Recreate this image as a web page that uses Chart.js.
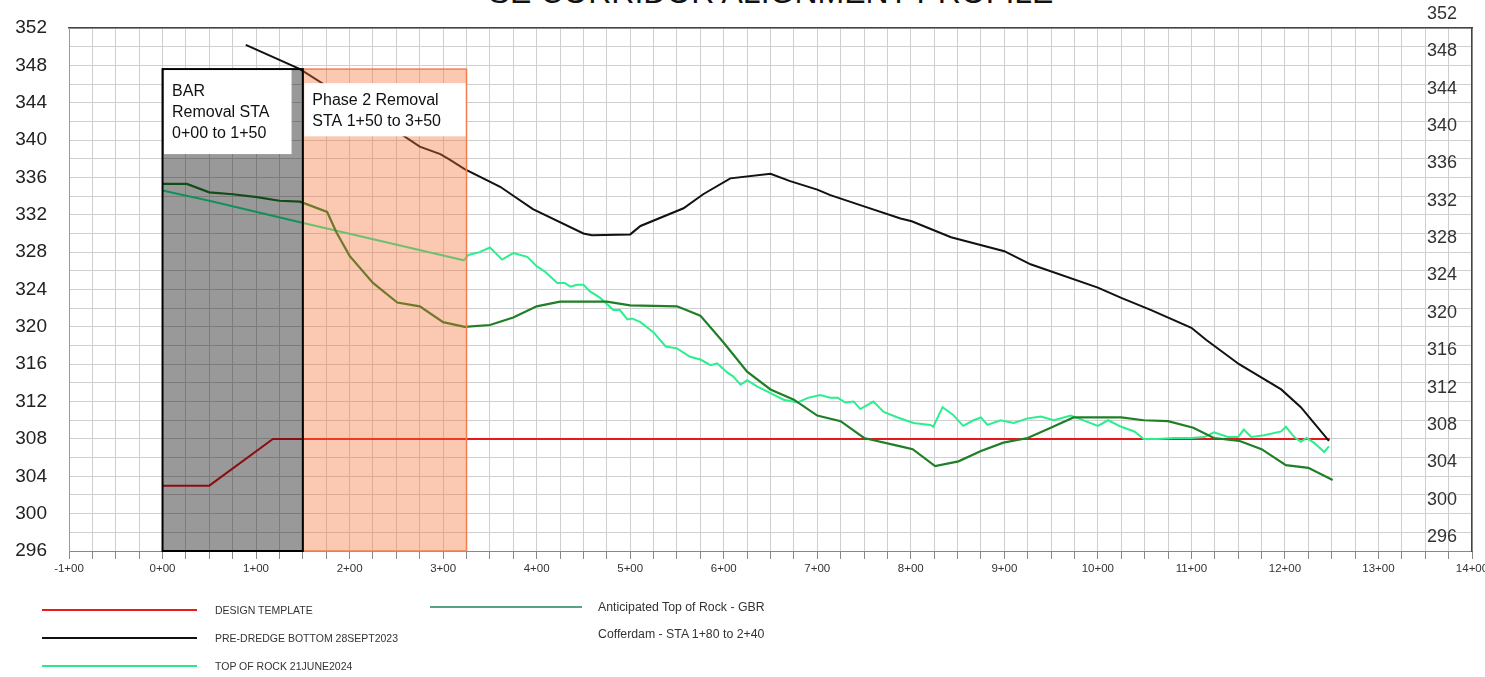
<!DOCTYPE html>
<html>
<head>
<meta charset="utf-8">
<title>SE Corridor Alignment Profile</title>
<script src="https://cdn.jsdelivr.net/npm/chart.js@4.4.1/dist/chart.umd.min.js"></script>
<style>
  html, body { margin: 0; padding: 0; background: #fff; overflow: hidden; }
  #wrap { position: relative; width: 1485px; height: 677px; overflow: hidden; font-family: "Liberation Sans", Arial, sans-serif; }
  #title { position: absolute; left: 0; width: 1542px; top: -24px; text-align: center; font-size: 32px; line-height: 32px; color: #111; }
  canvas { position: absolute; left: 0; top: 0; }
  .leg-line { position: absolute; height: 2px; }
  .leg-text { position: absolute; color: #333; white-space: nowrap; line-height: 14px; }
</style>
</head>
<body>
<div id="wrap">
  <div id="title">SE CORRIDOR ALIGNMENT PROFILE</div>
  <canvas id="profileChart" width="1485" height="677"></canvas>
  <div id="legend"></div>
</div>
<script>
// stations in feet, elevations in feet
const designSta = [0, 50, 118, 1248];
const designElev = [303, 303, 308, 308];

const preDredgeSta = [89, 147, 227, 275, 297, 307, 323, 361, 377, 396, 450, 459, 500, 511, 557, 578, 607, 650, 671, 700,
  714, 750, 789, 801, 843, 900, 928, 1000, 1025, 1057, 1100, 1116, 1151, 1196, 1217, 1247];
const preDredgeElev = [350.2, 347.6, 342.5, 339.3, 338.5, 337.9, 336.9, 335.0, 333.9, 332.6, 330.0, 329.8, 329.9, 330.8, 332.7, 334.2, 335.9, 336.4, 335.6, 334.7,
  334.1, 332.9, 331.6, 331.3, 329.6, 328.1, 326.7, 324.2, 323.1, 321.8, 319.9, 318.6, 316.0, 313.3, 311.4, 307.8];

const rockSta = [323, 327, 339, 350, 363, 375, 390, 400, 409, 422, 430, 436, 443, 450, 457, 468, 482, 489, 497, 502,
  511, 525, 538, 550, 564, 575, 586, 593, 604, 610, 618, 625, 636, 650, 664, 679, 690, 703, 714, 722,
  730, 739, 746, 760, 771, 786, 803, 821, 824, 834, 845, 856, 867, 875, 882, 896, 910, 925, 939, 953,
  971, 982, 1000, 1011, 1025, 1039, 1049, 1064, 1081, 1100, 1114, 1124, 1139, 1150, 1156, 1164, 1178, 1196, 1201, 1210,
  1217, 1223, 1231, 1242, 1247];
const rockElev = [327.2, 327.7, 328.0, 328.5, 327.2, 327.9, 327.5, 326.5, 325.9, 324.7, 324.7, 324.3, 324.5, 324.5, 323.8, 323.1, 321.8, 321.8, 320.8, 320.9,
  320.5, 319.4, 317.9, 317.7, 316.8, 316.5, 315.9, 316.1, 315.1, 314.7, 313.8, 314.3, 313.6, 312.9, 312.2, 311.9, 312.4, 312.7, 312.4, 312.4,
  311.9, 312.0, 311.2, 312.0, 310.9, 310.3, 309.7, 309.5, 309.3, 311.4, 310.6, 309.4, 310.0, 310.3, 309.5, 310.0, 309.7, 310.2, 310.4, 310.0,
  310.5, 310.1, 309.4, 310.0, 309.3, 308.8, 308.0, 308.0, 308.1, 308.1, 308.2, 308.7, 308.2, 308.2, 309.0, 308.2, 308.4, 308.8, 309.3, 308.2,
  307.7, 308.1, 307.6, 306.6, 307.2];

const surveySta = [0, 26, 50, 75, 101, 125, 147, 176, 186, 200, 225, 251, 275, 300, 323, 350, 375, 400, 425, 475,
  500, 550, 575, 600, 625, 650, 675, 700, 725, 750, 789, 802, 826, 851, 875, 899, 925, 952, 974, 1025,
  1049, 1075, 1102, 1124, 1151, 1175, 1201, 1225, 1251];
const surveyElev = [335.3, 335.3, 334.4, 334.2, 333.9, 333.5, 333.4, 332.3, 330.1, 327.6, 324.7, 322.6, 322.2, 320.5, 320.0, 320.2, 321.0, 322.2, 322.7, 322.7,
  322.3, 322.2, 321.2, 318.3, 315.2, 313.3, 312.2, 310.5, 309.9, 308.1, 307.2, 306.9, 305.1, 305.6, 306.7, 307.6, 308.1, 309.3, 310.3, 310.3,
  310.0, 309.9, 309.2, 308.1, 307.8, 306.9, 305.2, 304.9, 303.6];

const gbrSta = [0, 50, 147, 323];
const gbrElev = [334.6, 333.5, 331.2, 327.1];

// removal zones (station from / to, top elevation)
const zoneFrom = [0, 150];
const zoneTo = [150, 325];
const zoneTop = [347.6, 347.6];

// note boxes: station from / to, elevation top / bottom, text lines
const noteFrom = [0, 150];
const noteTo = [139, 325];
const noteTop = [347.6, 346.2];
const noteBottom = [338.5, 340.4];
const noteLines = [['BAR', 'Removal STA', '0+00 to 1+50'], ['Phase 2 Removal', 'STA 1+50 to 3+50']];

const legendLabels = ['DESIGN TEMPLATE', 'PRE-DREDGE BOTTOM 28SEPT2023', 'TOP OF ROCK 21JUNE2024',
  'Anticipated Top of Rock - GBR', 'Cofferdam - STA 1+80 to 2+40'];

const staMin = -100, staMax = 1400;
const elevMin = 296, elevMax = 352;

function toPoints(xs, ys) {
  return xs.map((x, i) => ({ x: x, y: ys[i] }));
}

function stationLabel(v) {
  if (v % 100 !== 0) return '';
  const h = Math.abs(v / 100);
  return (v < 0 ? '-' : '') + h + '+00';
}

function elevLabel(v) {
  return (v - elevMin) % 4 === 0 ? String(v) : '';
}

function noPadding(s) {
  s.paddingTop = 0;
  s.paddingBottom = 0;
  s.paddingLeft = 0;
  s.paddingRight = 0;
}

const FONT = '"Liberation Sans", Arial, sans-serif';

const zonePlugin = {
  id: 'zones',
  afterDatasetsDraw(chart) {
    const ctx = chart.ctx;
    const xs = chart.scales.x, ys = chart.scales.y;
    const bottom = ys.getPixelForValue(elevMin);
    const fills = ['rgba(0,0,0,0.4)', 'rgba(245,110,50,0.38)'];
    const strokes = ['#000', 'rgb(240,128,80)'];
    const widths = [2, 1.5];
    ctx.save();
    for (let i = 0; i < zoneFrom.length; i++) {
      const l = xs.getPixelForValue(zoneFrom[i]);
      const r = xs.getPixelForValue(zoneTo[i]);
      const t = ys.getPixelForValue(zoneTop[i]);
      ctx.fillStyle = fills[i];
      ctx.fillRect(l, t, r - l, bottom - t);
    }
    for (let i = zoneFrom.length - 1; i >= 0; i--) {
      const l = xs.getPixelForValue(zoneFrom[i]);
      const r = xs.getPixelForValue(zoneTo[i]);
      const t = ys.getPixelForValue(zoneTop[i]);
      ctx.strokeStyle = strokes[i];
      ctx.lineWidth = widths[i];
      ctx.strokeRect(l, t, r - l, bottom - t);
    }
    // white note boxes with text
    ctx.font = '16px ' + FONT;
    ctx.textBaseline = 'middle';
    ctx.textAlign = 'left';
    for (let i = 0; i < noteFrom.length; i++) {
      const l = xs.getPixelForValue(noteFrom[i]) + 1.5;
      const r = xs.getPixelForValue(noteTo[i]) - 1;
      const t = ys.getPixelForValue(noteTop[i]) + 1;
      const b = ys.getPixelForValue(noteBottom[i]);
      ctx.fillStyle = '#fff';
      ctx.fillRect(l, t, r - l, b - t);
      ctx.fillStyle = '#111';
      const lines = noteLines[i];
      const lh = 21;
      const y0 = (t + b) / 2 - (lines.length - 1) * lh / 2 + 1;
      lines.forEach((txt, k) => ctx.fillText(txt, l + 8, y0 + k * lh));
    }
    ctx.restore();
  }
};

const ctx = document.getElementById('profileChart');
const chart = new Chart(ctx, {
  type: 'line',
  data: {
    datasets: [
      { label: legendLabels[1], data: toPoints(preDredgeSta, preDredgeElev), borderColor: '#111', borderWidth: 2 },
      { label: 'Survey', data: toPoints(surveySta, surveyElev), borderColor: '#1f7f26', borderWidth: 2.2 },
      { label: legendLabels[3], data: toPoints(gbrSta, gbrElev), borderColor: '#1ef096', borderWidth: 2 },
      { label: legendLabels[2], data: toPoints(rockSta, rockElev), borderColor: '#2bef8f', borderWidth: 2 },
      { label: legendLabels[0], data: toPoints(designSta, designElev), borderColor: '#e8191e', borderWidth: 2 }
    ]
  },
  options: {
    responsive: false,
    animation: false,
    devicePixelRatio: 1,
    layout: { padding: { top: 28, left: 0, right: 0, bottom: 0 } },
    elements: { point: { radius: 0 }, line: { tension: 0 } },
    plugins: { legend: { display: false }, tooltip: { enabled: false }, title: { display: false } },
    scales: {
      x: {
        type: 'linear', position: 'bottom', min: staMin, max: staMax,
        afterFit: s => { s.height = 126; noPadding(s); },
        ticks: { stepSize: 25, autoSkip: false, maxRotation: 0, padding: 3, callback: stationLabel,
          color: '#333', font: { family: FONT, size: 11.5 } },
        grid: { color: '#cfcfcf', lineWidth: 1, tickLength: 8, tickColor: '#888' },
        border: { color: '#888', width: 1 }
      },
      x2: {
        type: 'linear', position: 'top', min: staMin, max: staMax,
        afterFit: s => { s.height = 0; noPadding(s); },
        ticks: { display: false },
        grid: { display: false, drawTicks: false },
        border: { display: true, color: '#444', width: 1.5 }
      },
      y: {
        type: 'linear', position: 'left', min: elevMin, max: elevMax,
        afterFit: s => { s.width = 69; noPadding(s); },
        ticks: { stepSize: 2, autoSkip: false, padding: 22, callback: elevLabel,
          color: '#222', font: { family: FONT, size: 19 } },
        grid: { color: '#cfcfcf', lineWidth: 1, drawTicks: false },
        border: { color: '#999', width: 1 }
      },
      y2: {
        type: 'linear', position: 'right', min: elevMin, max: elevMax,
        afterFit: s => { s.width = 13; noPadding(s); },
        ticks: { stepSize: 2, autoSkip: false, mirror: true, padding: -15, labelOffset: -14, callback: elevLabel,
          color: '#333', font: { family: FONT, size: 18 } },
        grid: { display: false, drawTicks: false },
        border: { display: true, color: '#444', width: 1.5 }
      }
    }
  },
  plugins: [zonePlugin]
});

// legend laid out like the drawing's key
const legendColors = ['#ee1a1a', '#111', '#2be88a', 'rgb(90,160,130)', null];
const legendEl = document.getElementById('legend');
const legendPos = [
  { lx: 42, lw: 155, tx: 215, y: 610, size: 10.5 },
  { lx: 42, lw: 155, tx: 215, y: 638, size: 10.5 },
  { lx: 42, lw: 155, tx: 215, y: 666, size: 10.5 },
  { lx: 430, lw: 152, tx: 598, y: 607, size: 12.3 },
  { lx: 430, lw: 152, tx: 598, y: 634, size: 12.3 }
];
legendLabels.forEach((label, i) => {
  const p = legendPos[i];
  if (legendColors[i]) {
    const line = document.createElement('div');
    line.className = 'leg-line';
    line.style.left = p.lx + 'px';
    line.style.width = p.lw + 'px';
    line.style.top = (p.y - 1) + 'px';
    line.style.background = legendColors[i];
    legendEl.appendChild(line);
  }
  const txt = document.createElement('div');
  txt.className = 'leg-text';
  txt.style.left = p.tx + 'px';
  txt.style.top = (p.y - 7) + 'px';
  txt.style.fontSize = p.size + 'px';
  txt.textContent = label;
  legendEl.appendChild(txt);
});
</script>
</body>
</html>
